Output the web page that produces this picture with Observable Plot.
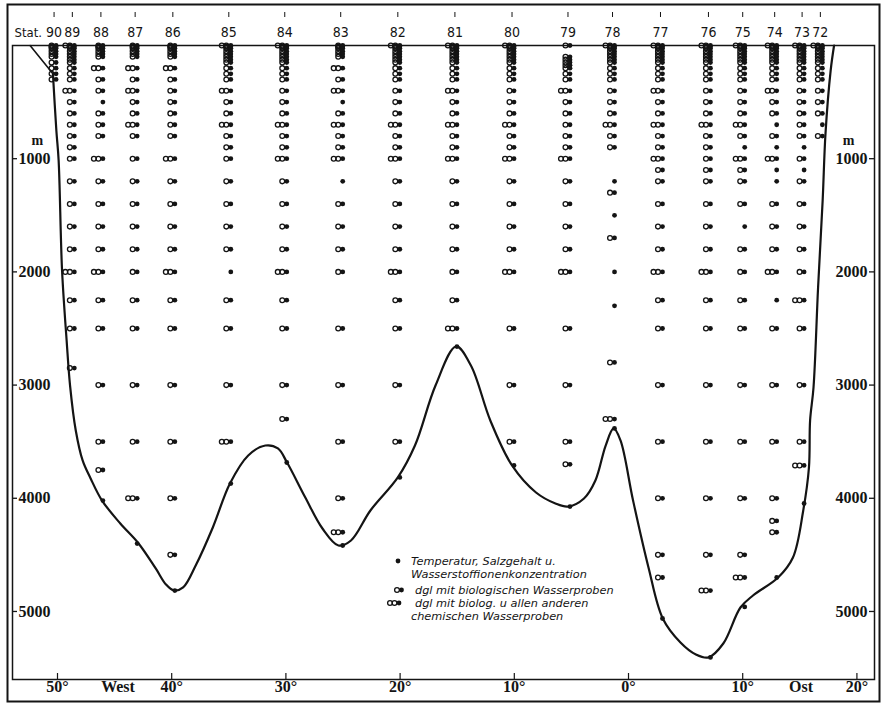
<!DOCTYPE html>
<html><head><meta charset="utf-8">
<style>body{margin:0;background:#fff}#chart{position:relative;width:885px;height:704px}</style>
<script src="https://cdn.jsdelivr.net/npm/d3@7"></script>
<script src="https://cdn.jsdelivr.net/npm/@observablehq/plot@0.6"></script>
</head><body><div id="chart"></div>
<script>
// Stations (west -> east), longitude: west negative, east positive
const stationNames = ["90","89","88","87","86","85","84","83","82","81","80","79","78","77","76","75","74","73","72"];
const stationLon = [-50.3,-48.7,-46.2,-43.2,-39.9,-35.0,-30.1,-25.2,-20.2,-15.2,-10.2,-5.3,-1.4,2.8,7.0,10.0,12.8,15.2,16.8];

// sample depths [m, type]; type 1 = T,S,pH only; 2 = + biological samples; 3 = + biological and all chemical samples
const surfaceFull = [[0,3],[10,2],[25,2],[50,2],[75,2],[100,2],[125,2],[150,2],[200,2],[250,2],[300,2]];
const surfaceShort = [[0,2],[10,2],[25,2],[50,2],[75,2],[100,2],[200,3],[300,2]];
const s90 = [[0,2],[10,2],[25,2],[50,2],[75,2],[100,2],[150,2],[200,2],[250,2],[300,2]];
const s89 = [[400,3],[500,2],[600,2],[700,2],[800,2],[900,2],[1000,2],[1200,2],[1400,2],[1600,2],[1800,2],[2000,3],[2250,2],[2500,2],[2850,2]];
const s88 = [[400,2],[500,1],[600,2],[700,2],[800,2],[1000,3],[1200,2],[1400,2],[1600,2],[1800,2],[2000,3],[2250,2],[2500,2],[3000,2],[3500,2],[3750,2],[4020,1]];
const s87 = [[400,3],[500,2],[600,2],[700,3],[800,2],[1000,2],[1200,2],[1400,2],[1600,2],[1800,2],[2000,2],[2250,2],[2500,2],[3000,2],[3500,2],[4000,3],[4400,1]];
const s86 = [[400,2],[500,2],[600,2],[700,2],[800,2],[1000,3],[1200,2],[1400,2],[1600,2],[1800,2],[2000,3],[2250,2],[2500,2],[3000,2],[3500,2],[4000,2],[4500,2],[4815,1]];
const s85 = [[400,3],[500,2],[600,2],[700,3],[800,2],[900,2],[1000,2],[1200,2],[1400,2],[1600,2],[1800,2],[2000,1],[2250,2],[2500,2],[3000,2],[3500,3],[3870,1]];
const s84 = [[400,2],[500,2],[600,2],[700,3],[800,2],[900,2],[1000,3],[1200,2],[1400,2],[1600,2],[1800,2],[2000,3],[2250,2],[2500,2],[3000,2],[3300,2],[3684,1]];
const s83 = [[400,3],[500,1],[600,2],[700,3],[800,2],[900,2],[1000,3],[1200,1],[1400,2],[1600,2],[1800,2],[2000,2],[2500,2],[3000,2],[3500,2],[4000,2],[4300,3],[4417,1]];
const s82 = [[400,2],[500,2],[600,2],[700,3],[800,2],[900,2],[1000,3],[1200,2],[1400,2],[1600,2],[1800,2],[2000,3],[2250,2],[2500,2],[3000,2],[3500,2],[3816,1]];
const s81 = [[400,3],[500,2],[600,2],[700,3],[800,2],[900,2],[1000,3],[1200,2],[1400,2],[1600,2],[1800,2],[2000,2],[2250,2],[2500,3],[2660,1]];
const s80 = [[400,2],[500,2],[600,2],[700,3],[800,2],[900,2],[1000,3],[1200,2],[1400,2],[1600,2],[1800,2],[2000,3],[2500,2],[3000,2],[3500,2],[3710,1]];
const s79 = [[0,2],[100,2],[125,2],[150,2],[175,2],[200,2],[250,2],[300,2],[400,3],[500,2],[600,2],[700,2],[800,2],[900,2],[1000,3],[1200,2],[1400,2],[1600,2],[1800,2],[2000,3],[2500,2],[3000,2],[3500,2],[3700,2],[4073,1]];
const s78 = [[400,2],[500,2],[600,2],[700,3],[800,2],[900,2],[1200,1],[1300,2],[1500,1],[1700,2],[2000,1],[2300,1],[2800,2],[3300,3],[3383,1]];
const s77 = [[400,3],[500,2],[600,2],[700,3],[800,2],[900,2],[1000,3],[1100,2],[1200,2],[1400,2],[1600,2],[1800,2],[2000,3],[2250,2],[2500,2],[3000,2],[3500,2],[4000,2],[4500,2],[4700,2],[5062,1]];
const s76 = [[400,2],[500,2],[600,2],[700,3],[800,2],[900,2],[1000,2],[1100,2],[1200,2],[1400,2],[1600,2],[1800,2],[2000,3],[2250,2],[2500,2],[3000,2],[3500,2],[4000,2],[4500,2],[4815,3],[5406,1]];
const s75 = [[400,2],[500,2],[600,2],[700,3],[800,2],[900,1],[1000,3],[1100,2],[1200,2],[1400,2],[1600,1],[1800,2],[2000,2],[2250,2],[2500,2],[3000,2],[3500,2],[4000,2],[4500,2],[4700,3],[4960,1]];
const s74 = [[400,3],[500,2],[600,2],[700,1],[800,2],[900,1],[1000,3],[1100,1],[1200,1],[1400,2],[1600,2],[1800,2],[2000,3],[2250,1],[2500,2],[3000,2],[3500,2],[4000,2],[4200,2],[4300,2],[4700,1]];
const s73 = [[400,2],[500,2],[600,2],[700,2],[800,2],[900,1],[1000,2],[1100,1],[1200,2],[1400,2],[1600,2],[1800,2],[2000,2],[2250,3],[2500,2],[3000,2],[3500,2],[3710,3],[4046,1]];
const s72 = [[400,2],[500,2],[600,2],[700,1],[800,2]];
const stationSamples = [
  s90,
  surfaceFull.concat(s89), surfaceShort.concat(s88), surfaceShort.concat(s87), surfaceShort.concat(s86),
  surfaceFull.concat(s85), surfaceFull.concat(s84), surfaceShort.concat(s83), surfaceFull.concat(s82),
  surfaceFull.concat(s81), surfaceFull.concat(s80), s79, surfaceFull.concat(s78),
  surfaceFull.concat(s77), surfaceFull.concat(s76), surfaceFull.concat(s75), surfaceFull.concat(s74),
  surfaceFull.concat(s73), surfaceFull.concat(s72)
];

// Sea floor profile
const bottomLon = [-50.4,-50.1,-49.9,-49.6,-49.2,-48.9,-48.4,-47.8,-47.1,-46.1,-44.5,-42.9,-41.4,-40.5,-39.8,-39.0,-37.9,-36.4,-34.9,-33.3,-31.8,-30.7,-29.9,-28.3,-26.8,-25.4,-24.3,-22.6,-20.2,-18.7,-16.9,-15.1,-13.8,-12.1,-10.2,-8.1,-6.4,-5.3,-3.9,-2.9,-2.0,-1.3,-0.7,0.4,1.75,3.0,4.55,5.9,7.0,8.3,9.8,10.9,13.1,14.4,15.3,15.8,15.9,16.2,16.6,17.0,17.25,17.7,18.0];
const bottomDepth = [250,751,1016,1988,2606,3004,3401,3666,3825,4020,4223,4399,4620,4762,4815,4788,4594,4258,3870,3622,3534,3560,3684,3993,4267,4417,4373,4108,3816,3534,3004,2659,2827,3313,3710,3949,4046,4073,4002,3843,3534,3383,3489,4020,4611,5062,5274,5380,5406,5283,4965,4859,4700,4523,4108,3728,3313,3021,2138,1369,777,221,0];
const shelfLon = [-52.4,-50.4];
const shelfDepth = [0,250];

// Axes
const depthTicks = [1000,2000,3000,4000,5000];
const lonTicks = [-50,-40,-30,-20,-10,0,10,20];
const lonTickLabels = ["50°","40°","30°","20°","10°","0°","10°","20°"];
const sideLabels = ["West","Ost"];
const sideLabelLon = [-44.7,15.1];

const legendTexts = ["Temperatur, Salzgehalt u.","Wasserstoffionenkonzentration","dgl mit biologischen Wasserproben","dgl mit biolog. u allen anderen","chemischen Wasserproben"];

// ---- build tables
const samples = [];
stationNames.forEach((name, i) => stationSamples[i].forEach(([d, t]) => samples.push({station: name, lon: stationLon[i], depth: d, type: t})));
const stations = stationNames.map((n, i) => ({name: n, lon: stationLon[i]}));
const bottom = bottomLon.map((l, i) => ({lon: l, depth: bottomDepth[i]}));
const shelf = shelfLon.map((l, i) => ({lon: l, depth: shelfDepth[i]}));
const lonLab = lonTicks.map((l, i) => ({lon: l, text: lonTickLabels[i]}));
const sideLab = sideLabels.map((t, i) => ({lon: sideLabelLon[i], text: t}));

const ink = "#141414";
const serif = "Liberation Serif, DejaVu Serif, serif";
const narrow = "Liberation Sans Narrow, DejaVu Sans Condensed, Arial Narrow, sans-serif";

const plot = Plot.plot({
  width: 885, height: 704,
  marginLeft: 12, marginRight: 11, marginTop: 45, marginBottom: 25,
  x: {domain: [-53.94, 21.54], axis: null},
  y: {domain: [0, 5601], reverse: true, axis: null},
  style: {background: "white", overflow: "visible", color: ink},
  marks: [
    Plot.frame({stroke: ink, strokeWidth: 1.5}),
    Plot.frame({stroke: ink, strokeWidth: 2, insetLeft: -5, insetRight: -5, insetTop: -41, insetBottom: -22}),
    // sea floor
    Plot.line(shelf, {x: "lon", y: "depth", stroke: ink, strokeWidth: 1.6}),
    Plot.line(bottom, {x: "lon", y: "depth", stroke: ink, strokeWidth: 2.2, curve: "catmull-rom"}),
    // samples
    Plot.dot(samples.filter(d => d.type === 3), {x: "lon", y: "depth", r: 2.4, stroke: ink, strokeWidth: 1.3, fill: "none", dx: -7}),
    Plot.dot(samples.filter(d => d.type >= 2), {x: "lon", y: "depth", r: 2.4, stroke: ink, strokeWidth: 1.3, fill: "none", dx: -2.5}),
    Plot.dot(samples, {x: "lon", y: "depth", r: 2.4, fill: ink, stroke: "none", dx: 2}),
    // station header
    Plot.tickX(stations, {x: "lon", stroke: ink, strokeWidth: 1, insetTop: -33, insetBottom: 662}),
    Plot.text(stations, {x: "lon", text: "name", frameAnchor: "top", dy: -18, fontSize: 14, fontFamily: narrow, fill: ink}),
    Plot.text(["Stat."], {frameAnchor: "top-left", dx: 2, dy: -18, textAnchor: "start", fontSize: 13, fontFamily: narrow, fill: ink}),
    // depth axes
    Plot.tickY(depthTicks, {y: d => d, stroke: ink, strokeWidth: 1.3, insetRight: 857}),
    Plot.tickY(depthTicks, {y: d => d, stroke: ink, strokeWidth: 1.3, insetLeft: 857}),
    Plot.text(depthTicks, {y: d => d, text: d => String(d), frameAnchor: "left", dx: 6, textAnchor: "start", fontSize: 16, fontWeight: "bold", fontFamily: serif, fill: ink}),
    Plot.text(depthTicks, {y: d => d, text: d => String(d), frameAnchor: "right", dx: -7, textAnchor: "end", fontSize: 16, fontWeight: "bold", fontFamily: serif, fill: ink}),
    Plot.text(["m"], {y: () => depthTicks[0], frameAnchor: "left", dx: 19, dy: -17, fontSize: 14, fontWeight: "bold", fontFamily: serif, fill: ink, lineHeight: 0.8}),
    Plot.text(["m"], {y: () => depthTicks[0], frameAnchor: "right", dx: -20, dy: -17, fontSize: 14, fontWeight: "bold", fontFamily: serif, fill: ink, lineHeight: 0.8}),
    // longitude axis
    Plot.tickX(lonTicks, {x: d => d, stroke: ink, strokeWidth: 1.2, insetTop: 628}),
    Plot.text(lonLab, {x: "lon", text: "text", frameAnchor: "bottom", dy: 12, fontSize: 16, fontWeight: "bold", fontFamily: serif, fill: ink}),
    Plot.text(sideLab, {x: "lon", text: "text", frameAnchor: "bottom", dy: 12, fontSize: 16, fontWeight: "bold", fontFamily: serif, fill: ink})
  ]
});
document.getElementById("chart").appendChild(plot);

// legend (inside the plot area)
const svg = d3.select(plot);
const lg = svg.append("g").attr("fill", ink);
const legendLines = [
  {x: 411, y: 561, t: legendTexts[0]},
  {x: 411, y: 574, t: legendTexts[1]},
  {x: 415, y: 590, t: legendTexts[2]},
  {x: 415, y: 603, t: legendTexts[3]},
  {x: 411, y: 616, t: legendTexts[4]}
];
legendLines.forEach(l => lg.append("text")
  .attr("x", l.x).attr("y", l.y).attr("dy", "0.35em")
  .attr("text-anchor", "start")
  .attr("font-family", "DejaVu Sans, sans-serif")
  .attr("font-style", "italic")
  .attr("font-size", 11.3)
  .text(l.t));
// legend symbols
lg.append("circle").attr("cx", 398).attr("cy", 561).attr("r", 2.4);
lg.append("circle").attr("cx", 397).attr("cy", 590).attr("r", 2.4).attr("fill", "none").attr("stroke", ink).attr("stroke-width", 1.3);
lg.append("circle").attr("cx", 401.5).attr("cy", 590).attr("r", 2.4);
lg.append("circle").attr("cx", 390).attr("cy", 603).attr("r", 2.4).attr("fill", "none").attr("stroke", ink).attr("stroke-width", 1.3);
lg.append("circle").attr("cx", 394.5).attr("cy", 603).attr("r", 2.4).attr("fill", "none").attr("stroke", ink).attr("stroke-width", 1.3);
lg.append("circle").attr("cx", 399).attr("cy", 603).attr("r", 2.4);
</script>
</body></html>
